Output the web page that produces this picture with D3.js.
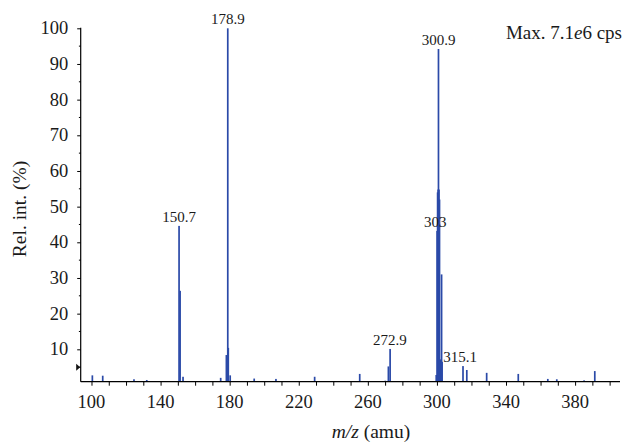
<!DOCTYPE html>
<html><head><meta charset="utf-8">
<script src="https://cdn.jsdelivr.net/npm/d3@7"></script>
<style>
html,body{margin:0;padding:0;background:#fff;}
svg text{font-family:"Liberation Serif","Times New Roman",serif;fill:#1a1a1a;}
</style></head>
<body><svg id="c" width="627" height="442"></svg>
<script>
// peak m/z values and relative intensities (%)
const peakMz  = [100.5,106.5,124.6,132.0,150.7,151.3,153.0,174.8,178.1,178.9,179.2,180.3,194.2,206.8,229.2,255.3,270.1,271.9,272.9,
                 299.6,300.1,300.4,300.7,300.9,301.2,301.5,301.8,302.1,302.4,302.7,303.0,
                 315.1,317.3,328.8,347.1,364.2,369.4,385.2,391.4];
const peakRel = [2.7,2.6,1.6,1.4,44.6,26.4,2.3,2.0,8.4,100,10.4,2.7,1.8,1.7,2.3,3.1,1.2,5.2,10.1,
                 2.8,43.2,54.0,54.8,94.2,54.8,52.0,7.2,7.0,6.9,31.0,6.5,
                 5.3,4.2,3.4,3.1,1.7,1.6,1.3,3.9];
// annotated peaks: text, anchor m/z, intensity they sit above
const labelText = ["150.7","178.9","300.9","303","272.9","315.1"];
const labelMz   = [150.7,178.9,301.0,299.1,272.8,313.4];
const labelRel  = [44.6,100,94.2,43.2,10.1,5.3];
const xTicks = d3.range(100,401,10);
const xTickLabels = [100,140,180,220,260,300,340,380];
const yTickLabels = [10,20,30,40,50,60,70,80,90,100];
const yMinor = [5,15,25,35,45,55,65,75,85,95];
const thresholdRel = 5;

const svg = d3.select("#c");
const x = d3.scaleLinear().domain([93.75,406]).range([80.7,620]);
const y = d3.scaleLinear().domain([0.92,100]).range([381.7,28.3]);
const blue = "#2b4aa8";

// bars
svg.append("g").selectAll("rect").data(peakMz).join("rect")
  .attr("x", d=>x(d)-0.85).attr("width",1.7)
  .attr("y",(d,i)=>y(peakRel[i])).attr("height",(d,i)=>y.range()[0]-y(peakRel[i]))
  .attr("fill",blue);

// x axis
const gx = svg.append("g").attr("transform",`translate(0,${y.range()[0]})`);
gx.append("line").attr("x1",x.range()[0]).attr("x2",x.range()[1]).attr("stroke","#000").attr("stroke-width",1.2);
gx.call(d3.axisBottom(x).tickValues(xTicks).tickSize(4).tickFormat(""))
  .call(g=>g.select(".domain").remove())
  .call(g=>g.selectAll("line").attr("stroke","#000"));
gx.selectAll("text.xl").data(xTickLabels).join("text").attr("class","xl")
  .attr("x",d=>x(d)).attr("y",26.5).attr("text-anchor","middle").attr("font-size",18.5).text(d=>d);

// y axis
const gy = svg.append("g").attr("transform",`translate(${x.range()[0]},0)`);
gy.append("line").attr("y1",y.range()[0]).attr("y2",y(100)-0.6).attr("stroke","#000").attr("stroke-width",1.2);
gy.call(d3.axisLeft(y).tickValues(yTickLabels).tickSize(3.5).tickFormat(""))
  .call(g=>g.select(".domain").remove())
  .call(g=>g.selectAll("line").attr("stroke","#000"));
gy.selectAll("line.minor").data(yMinor).join("line").attr("class","minor")
  .attr("x1",0).attr("x2",-1.8).attr("y1",d=>y(d)).attr("y2",d=>y(d)).attr("stroke","#000");
gy.selectAll("text.yl").data(yTickLabels).join("text").attr("class","yl")
  .attr("x",-12.5).attr("y",d=>y(d)+6).attr("text-anchor","end").attr("font-size",18.5).text(d=>d);

// threshold marker
svg.append("path")
  .attr("d",`M${x.range()[0]-4.5},${y(thresholdRel)-3.5}L${x.range()[0]-0.5},${y(thresholdRel)}L${x.range()[0]-4.5},${y(thresholdRel)+3.5}Z`)
  .attr("fill","#111");

// peak labels
svg.append("g").selectAll("text").data(labelText).join("text")
  .attr("x",(d,i)=>x(labelMz[i])).attr("y",(d,i)=>y(labelRel[i])-4)
  .attr("text-anchor","middle").attr("font-size",15).text(d=>d);

// max annotation
const mx = svg.append("text").attr("x",622).attr("y",38.5).attr("text-anchor","end").attr("font-size",19);
mx.append("tspan").text("Max. 7.1");
mx.append("tspan").attr("font-style","italic").text("e");
mx.append("tspan").text("6 cps");

// axis titles
const xt = svg.append("text").attr("x",371).attr("y",438).attr("text-anchor","middle").attr("font-size",19.5);
xt.append("tspan").attr("font-style","italic").text("m/z");
xt.append("tspan").text(" (amu)");
svg.append("text").attr("transform","translate(26,209) rotate(-90)").attr("text-anchor","middle")
  .attr("font-size",19.5).text("Rel. int. (%)");
</script></body></html>
